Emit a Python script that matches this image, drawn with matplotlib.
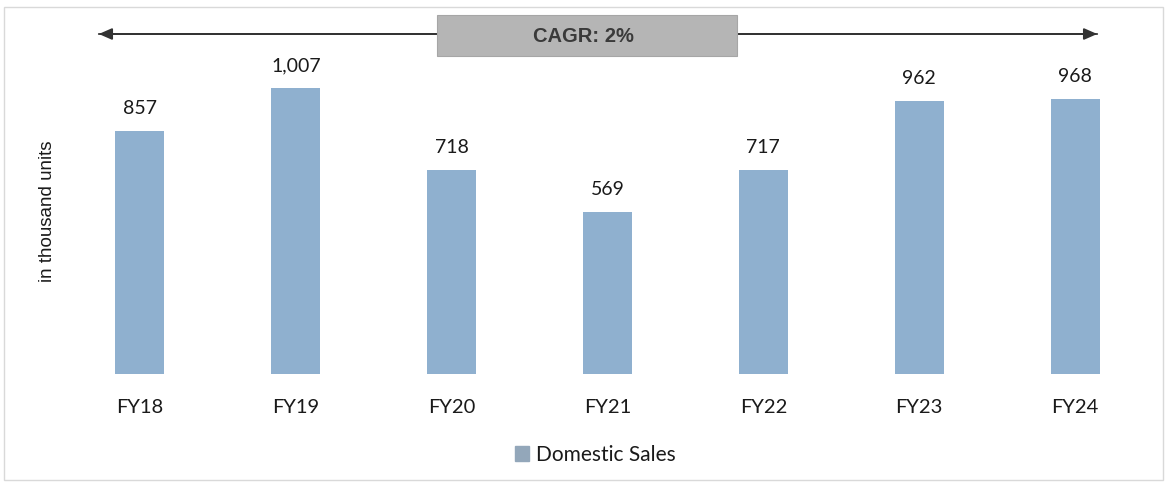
import matplotlib
matplotlib.use("Agg")
import matplotlib.pyplot as plt
from matplotlib.patches import Rectangle, FancyArrowPatch

categories = ["FY18", "FY19", "FY20", "FY21", "FY22", "FY23", "FY24"]
domestic_sales = [857, 1007, 718, 569, 717, 962, 968]
value_labels = ["857", "1,007", "718", "569", "717", "962", "968"]
series_name = "Domestic Sales"
cagr_text = "CAGR: 2%"
y_label = "in thousand units"

W, H = 1168, 484
fig = plt.figure(figsize=(W / 100, H / 100), dpi=100)
fig.patch.set_facecolor("white")

def fx(px):
    return px / W

def fy(py):
    return 1 - py / H

# outer border
fig.add_artist(Rectangle((fx(4), fy(480)), fx(1163) - fx(4), fy(7) - fy(480),
                         transform=fig.transFigure, fill=False,
                         edgecolor="#d9d9d9", linewidth=1))

ax = fig.add_axes([fx(62), fy(374), fx(1153) - fx(62), fy(22) - fy(374)])
bar_color = "#8fb0cf"
x = list(range(len(categories)))
bars = ax.bar(x, domestic_sales, width=0.315, color=bar_color, label=series_name)
ax.set_xlim(-0.5, len(categories) - 0.5)
ax.set_ylim(0, 1239)
for s in ax.spines.values():
    s.set_visible(False)
ax.set_yticks([])
ax.set_xticks(x)
ax.set_xticklabels(categories, fontsize=14.5, family="Lato", color="#1a1a1a")
ax.tick_params(axis="x", length=0, pad=18)

for xi, v, lab in zip(x, domestic_sales, value_labels):
    ax.annotate(lab, (xi, v), xytext=(0, 10), textcoords="offset points",
                ha="center", va="bottom", fontsize=14, family="Lato", color="#1a1a1a")

fig.text(fx(47), fy(211), y_label, rotation=90, ha="center", va="center",
         fontsize=13.5, family="Liberation Sans", color="#1a1a1a")

# CAGR arrow
kw = dict(transform=fig.transFigure, arrowstyle="-|>,head_length=8,head_width=3.5",
          color="#333333", linewidth=1.3)
fig.add_artist(FancyArrowPatch((fx(96), fy(34)), (fx(1100), fy(34)), **kw))
fig.add_artist(FancyArrowPatch((fx(1100), fy(34)), (fx(96), fy(34)), **kw))
fig.add_artist(Rectangle((fx(437), fy(56)), fx(737) - fx(437), fy(15) - fy(56),
                         transform=fig.transFigure, facecolor="#b5b5b5",
                         edgecolor="#a6a6a6", linewidth=0.8, zorder=5))
fig.text(fx(583), fy(37), cagr_text, ha="center", va="center", fontsize=14.5,
         fontweight="bold", family="Liberation Sans", color="#3a3a3a", zorder=6)

leg = fig.legend(handles=[Rectangle((0, 0), 1, 1, color="#93a7ba")], labels=[series_name],
                 loc="center", bbox_to_anchor=(fx(595), fy(455)), frameon=False,
                 prop={"family": "Lato", "size": 15}, handlelength=0.7, handleheight=0.7,
                 handletextpad=0.3)
for t in leg.get_texts():
    t.set_color("#1a1a1a")

fig.savefig("out.png", dpi=100, facecolor="white")
